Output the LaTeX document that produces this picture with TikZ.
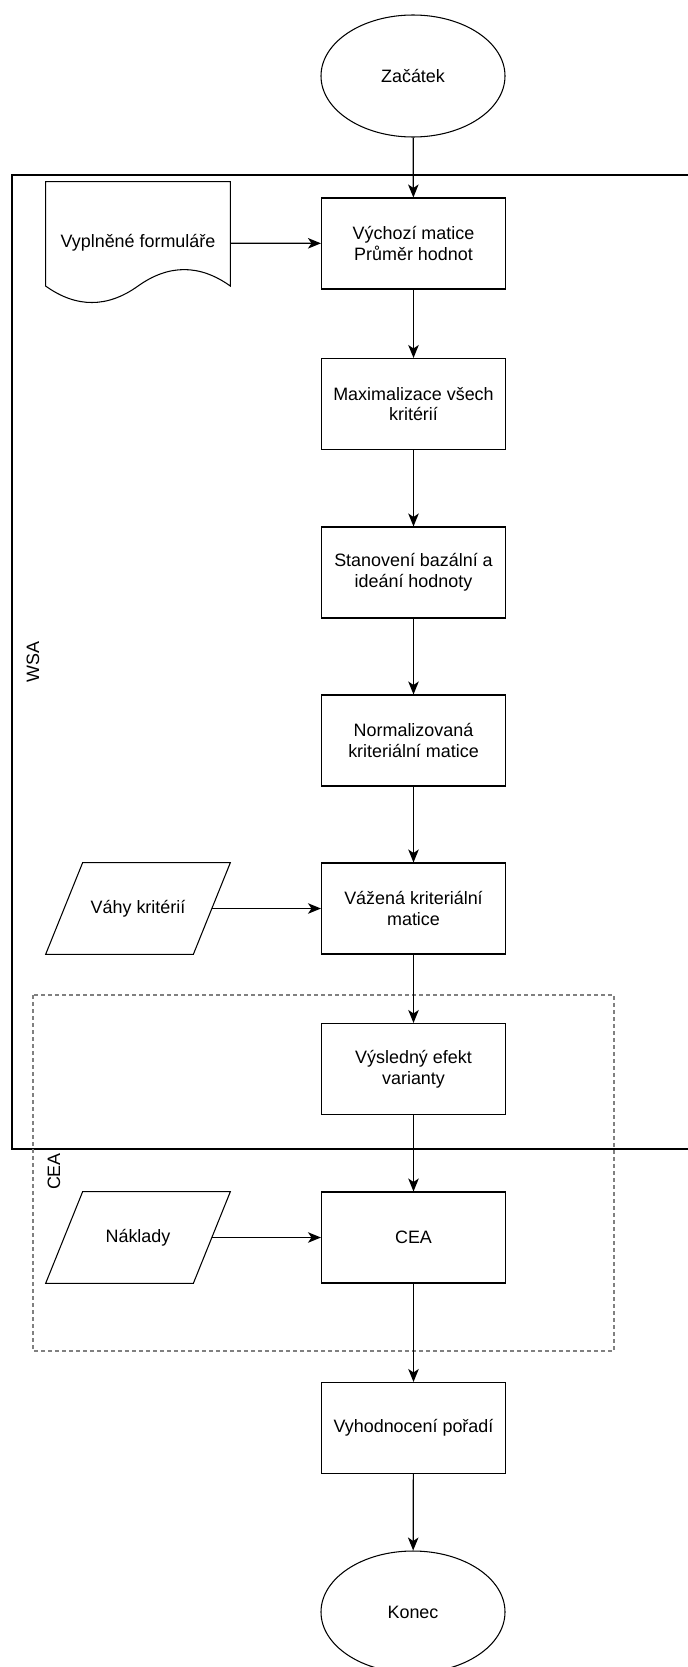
\documentclass[tikz,border=0pt]{standalone}
\usepackage{fontspec}
\setmainfont{Liberation Sans}
\usepackage{tikz}
\usetikzlibrary{arrows.meta,positioning,shapes.geometric}
\usepackage{xcolor}

\begin{document}
\begin{tikzpicture}[
	box/.style={draw, line width=0.6pt, minimum width=3.68cm, minimum height=1.82cm,
		align=center, inner sep=2pt, font=\fontsize{10.2}{11.8}\selectfont},
	term/.style={draw, ellipse, line width=0.6pt, minimum width=3.68cm, minimum height=2.44cm,
		inner sep=0pt, font=\fontsize{10.2}{11.8}\selectfont},
	inp/.style={minimum width=3.68cm, minimum height=1.82cm,
		inner sep=0pt, font=\fontsize{10.2}{11.8}\selectfont},
	doc/.style={minimum width=3.68cm, minimum height=2.44cm, inner sep=0pt,
		font=\fontsize{10.2}{11.8}\selectfont},
	lbl/.style={rotate=90, inner sep=0pt, font=\fontsize{10.2}{11.8}\selectfont},
	arr/.style={-{Stealth[length=0.26cm, width=0.21cm, inset=0.07cm]}, line width=0.7pt}
]
	\useasboundingbox (0,0) rectangle (13.74,-33.34);

	% WSA frame (runs out on the right)
	\draw[line width=0.7pt] (13.9,-3.50) -- (0.24,-3.50) -- (0.24,-22.98) -- (13.9,-22.98);
	\node[lbl] (wsa) at (0.66,-13.24) {WSA};

	% CEA area
	\draw[gray, line width=1.1pt, dash pattern=on 0.07cm off 0.07cm]
		(0.66,-19.90) rectangle (12.28,-27.02);
	\node[lbl] (ceal) at (1.08,-23.43) {CEA};

	% Start
	\node[term] (start) at (8.26,-1.52) {Začátek};

	% Main column
	\node[box] (init) at (8.27,-4.87) {Výchozí matice\\ Průměr hodnot};
	\node[box] (max)  at (8.27,-8.08) {Maximalizace všech\\ kritérií};
	\node[box] (base) at (8.27,-11.45) {Stanovení bazální a\\ ideání hodnoty};
	\node[box] (norm) at (8.27,-14.81) {Normalizovaná\\ kriteriální matice};
	\node[box] (wmat) at (8.27,-18.17) {Vážená kriteriální\\ matice};
	\node[box] (eff)  at (8.27,-21.38) {Výsledný efekt\\ varianty};
	\node[box] (cea)  at (8.27,-24.75) {CEA};
	\node[box] (rank) at (8.27,-28.56) {Vyhodnocení pořadí};

	% End
	\node[term] (stop) at (8.26,-32.24) {Konec};

	% Inputs
	\node[doc] (form) at (2.76,-4.86) {Vyplněné formuláře};
	\draw[line width=0.6pt] (form.north west) -- (form.north east)
		-- ([yshift=0.366cm]form.south east)
		.. controls +(-0.613,0.439) and +(0.613,0.439) .. ([yshift=0.366cm]form.south)
		.. controls +(-0.613,-0.439) and +(0.613,-0.439) .. ([yshift=0.366cm]form.south west)
		-- cycle;
	\node[inp] (weights) at (2.76,-18.17) {Váhy kritérií};
	\node[inp] (costs)   at (2.76,-24.75) {Náklady};
	\foreach \n in {weights,costs}
		\draw[line width=0.6pt] ([xshift=0.74cm]\n.north west) -- (\n.north east)
			-- ([xshift=-0.74cm]\n.south east) -- (\n.south west) -- cycle;

	\draw[arr] (start) -- (init);
	\draw[arr] (init) -- (max);
	\draw[arr] (max) -- (base);
	\draw[arr] (base) -- (norm);
	\draw[arr] (norm) -- (wmat);
	\draw[arr] (wmat) -- (eff);
	\draw[arr] (eff) -- (cea);
	\draw[arr] (cea) -- (rank);
	\draw[arr] (rank) -- (stop);

	\draw[arr] (form) -- (init);
	\draw[arr] ([xshift=-0.37cm]weights.east) -- (wmat);
	\draw[arr] ([xshift=-0.37cm]costs.east) -- (cea);
\end{tikzpicture}
\end{document}
